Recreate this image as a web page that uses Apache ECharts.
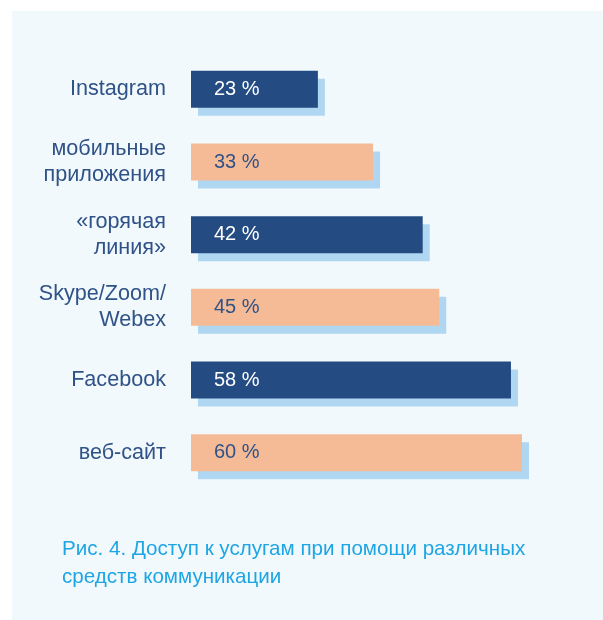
<!DOCTYPE html>
<html><head><meta charset="utf-8">
<script src="https://cdn.jsdelivr.net/npm/echarts@6/dist/echarts.min.js"></script>
<style>html,body{margin:0;padding:0;background:#fff}#c{width:603px;height:620px}</style>
</head><body><div id="c"></div>
<script>
const categories = ["Instagram", "мобильные\nприложения", "«горячая\nлиния»", "Skype/Zoom/\nWebex", "Facebook", "веб-сайт"];
const values = [23, 33, 42, 45, 58, 60];
const barColors = ["#244c82", "#f5bb97", "#244c82", "#f5bb97", "#244c82", "#f5bb97"];
const labelColors = ["#ffffff", "#2f5287", "#ffffff", "#2f5287", "#ffffff", "#2f5287"];
const caption = "Рис. 4. Доступ к услугам при помощи различных\nсредств коммуникации";
const font = "'Liberation Sans', Arial, sans-serif";

const chart = echarts.init(document.getElementById('c'), null, {renderer: 'canvas'});
chart.setOption({
  animation: false,
  backgroundColor: '#ffffff',
  graphic: [{type: 'rect', z: -10, shape: {x: 12, y: 11, width: 600, height: 620}, style: {fill: '#f2f9fd'}}],
  title: {
    text: caption, left: 57, top: 530,
    textStyle: {fontFamily: font, fontSize: 20.6, fontWeight: 'normal', color: '#1ea5e3', lineHeight: 28}
  },
  grid: {left: 191, top: 53, width: 331, height: 436},
  xAxis: {type: 'value', min: 0, max: 60, show: false},
  yAxis: {
    type: 'category', data: categories, inverse: true,
    axisLine: {show: false}, axisTick: {show: false},
    axisLabel: {margin: 25, fontFamily: font, fontSize: 21.6, color: '#2f5287', lineHeight: 26, align: 'right'}
  },
  series: [{
    type: 'bar', barWidth: 37,
    data: values.map((v, i) => ({
      value: v,
      itemStyle: {color: barColors[i]},
      label: {color: labelColors[i]}
    })),
    itemStyle: {shadowColor: '#afd7f2', shadowBlur: 0, shadowOffsetX: 7, shadowOffsetY: 8},
    label: {show: true, position: 'insideLeft', distance: 23, fontFamily: font, fontSize: 20, formatter: '{c} %'}
  }]
});
</script></body></html>
